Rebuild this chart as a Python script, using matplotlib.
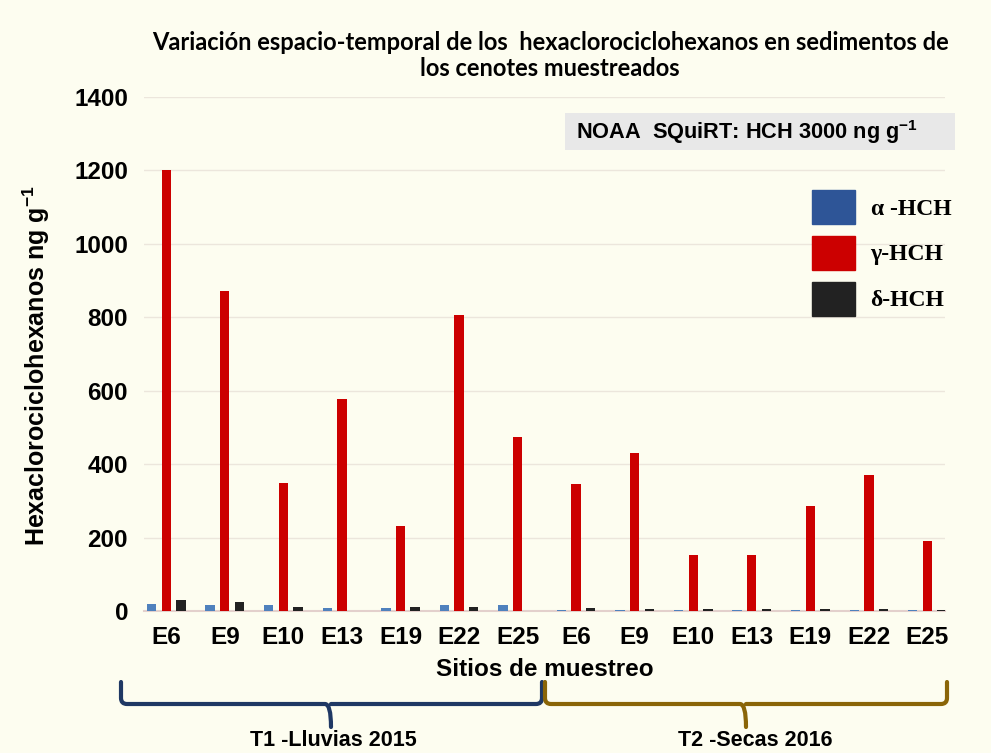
import numpy as np
import matplotlib.pyplot as plt
from matplotlib.path import Path
from matplotlib.patches import PathPatch, Patch, Rectangle

sitios = ['E6', 'E9', 'E10', 'E13', 'E19', 'E22', 'E25',
          'E6', 'E9', 'E10', 'E13', 'E19', 'E22', 'E25']
alfa_hch = [18, 15, 15, 7, 7, 15, 15, 4, 4, 4, 4, 4, 4, 4]
gamma_hch = [1200, 872, 350, 578, 232, 806, 474, 345, 429, 152, 152, 287, 371, 190]
delta_hch = [30, 25, 12, 0, 12, 12, 0, 8, 5, 5, 5, 5, 5, 2]

plt.rcParams['mathtext.fontset'] = 'custom'
plt.rcParams['mathtext.rm'] = 'Liberation Sans'
plt.rcParams['mathtext.bf'] = 'Liberation Sans:bold'

fondo = '#fdfdf0'
col_alfa = '#4f81bd'
col_gamma = '#cc0000'
col_delta = '#222222'

W, H = 991, 753
fig = plt.figure(figsize=(9.91, 7.53), dpi=100, facecolor=fondo)
ax = fig.add_axes([144 / W, 1 - 611 / H, (945 - 144) / W, (611 - 97) / H], facecolor=fondo)

x = np.arange(len(sitios))
ancho = 0.16
ax.bar(x - 0.25, alfa_hch, ancho, color=col_alfa, zorder=3)
ax.bar(x, gamma_hch, ancho, color=col_gamma, zorder=3)
ax.bar(x + 0.25, delta_hch, ancho, color=col_delta, zorder=3)

ax.set_xlim(-0.38, 13.3)
ax.set_ylim(0, 1400)
ax.set_yticks(range(0, 1401, 200))
ax.set_xticks(x)
ax.set_xticklabels(sitios)
ax.grid(axis='y', color='#ece6dc', linewidth=1, zorder=0)
for s in ['left', 'right', 'top']:
    ax.spines[s].set_visible(False)
ax.spines['bottom'].set_color('#e3d0cc')
ax.spines['bottom'].set_linewidth(1.5)
ax.tick_params(length=0, labelsize=17.5)
ax.tick_params(axis='x', pad=11)
ax.tick_params(axis='y', pad=11.5)
for t in ax.get_xticklabels() + ax.get_yticklabels():
    t.set_fontfamily('Liberation Sans')
    t.set_fontweight('bold')

ax.set_xlabel('Sitios de muestreo', fontsize=17.5, fontweight='bold',
              family='Liberation Sans', labelpad=6)
ax.set_ylabel('Hexaclorociclohexanos ng g$^{\\mathbf{-1}}$', fontsize=18, fontweight='bold',
              family='Liberation Sans')
ax.yaxis.set_label_coords(-0.115, 0.477)

fig.text(550 / W, 1 - 42 / H, 'Variación espacio-temporal de los  hexaclorociclohexanos en sedimentos de',
         ha='center', va='center', fontsize=17, fontweight='bold', family='Lato')
fig.text(550 / W, 1 - 69 / H, 'los cenotes muestreados',
         ha='center', va='center', fontsize=17, fontweight='bold', family='Lato')

# recuadro con el valor de referencia NOAA
fig.patches.append(Rectangle((565 / W, 1 - 150 / H), (955 - 565) / W, 37 / H,
                             transform=fig.transFigure, facecolor='#e8e8e8',
                             edgecolor='none', zorder=1))
fig.text(576 / W, 1 - 132 / H, 'NOAA  SQuiRT: HCH 3000 ng g$^{\\mathbf{-1}}$',
         ha='left', va='center', fontsize=15.7, fontweight='bold', family='Liberation Sans')

handles = [Patch(color='#2e5597'), Patch(color=col_gamma), Patch(color=col_delta)]
leg = fig.legend(handles, ['α -HCH', 'γ-HCH', 'δ-HCH'], loc='upper left',
                 bbox_to_anchor=(812 / W, 1 - 190 / H), bbox_transform=fig.transFigure,
                 frameon=False, borderpad=0, borderaxespad=0,
                 handlelength=1.8, handleheight=1.84, labelspacing=0.5, handletextpad=0.68,
                 prop={'family': 'Liberation Serif', 'weight': 'bold', 'size': 17})


def llave(x0, x1, xm, color):
    ya, yb, yc = 1 - 682 / H, 1 - 704 / H, 1 - 727 / H
    r = 6 / W
    rv = 6 / H
    verts = [(x0 / W, ya), (x0 / W, yb + rv), (x0 / W, yb), (x0 / W + r, yb),
             (xm / W - r, yb), (xm / W, yb), (xm / W, yc),
             (xm / W, yb), (xm / W + r, yb),
             (x1 / W - r, yb), (x1 / W, yb), (x1 / W, yb + rv), (x1 / W, ya)]
    codes = [Path.MOVETO, Path.LINETO, Path.CURVE3, Path.CURVE3,
             Path.LINETO, Path.CURVE3, Path.CURVE3,
             Path.MOVETO, Path.CURVE3,
             Path.LINETO, Path.CURVE3, Path.CURVE3, Path.LINETO]
    fig.patches.append(PathPatch(Path(verts, codes), transform=fig.transFigure,
                                 facecolor='none', edgecolor=color, linewidth=3,
                                 capstyle='round', joinstyle='round'))


llave(121, 542, 331, '#1f3864')
llave(545, 947, 746, '#8a6508')

fig.text(333 / W, 1 - 740 / H, 'T1 -Lluvias 2015', ha='center', va='center',
         fontsize=15.5, fontweight='bold', family='Liberation Sans')
fig.text(755 / W, 1 - 740 / H, 'T2 -Secas 2016', ha='center', va='center',
         fontsize=15.5, fontweight='bold', family='Liberation Sans')

fig.savefig('out.png', dpi=100, facecolor=fondo)
